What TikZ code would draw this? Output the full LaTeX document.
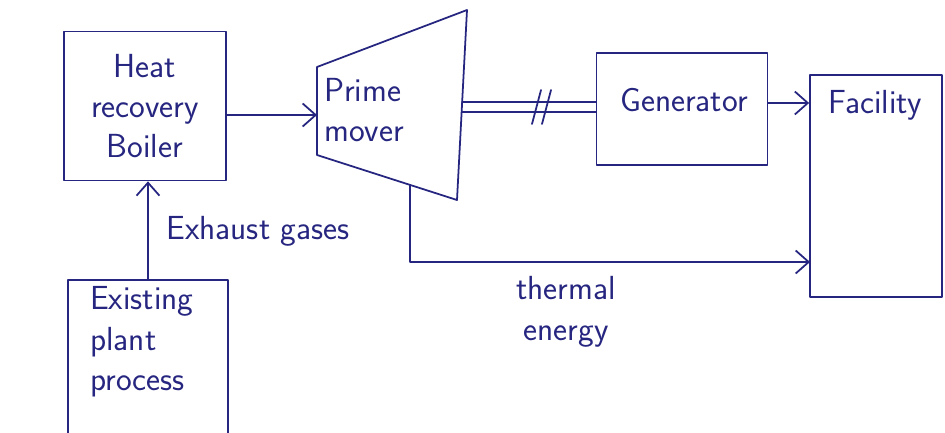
\documentclass[tikz,border=0pt]{standalone}
\usetikzlibrary{arrows.meta}
\definecolor{ink}{RGB}{38,38,128}

\begin{document}
\begin{tikzpicture}[
    x=0.02cm,y=-0.02cm,
    line cap=round,
    line join=round,
    every node/.style={text=ink,font=\sffamily\fontsize{19}{23}\selectfont},
    box/.style={draw=ink,line width=1pt,inner sep=0pt},
    wire/.style={draw=ink,line width=1pt},
    flow/.style={wire,-{Straight Barb[length=2.6mm,width=4.6mm,line width=1pt]}}
]

\useasboundingbox (0,0) rectangle (945,432);

% -------------------------------------------------
% Blocks
% -------------------------------------------------
\node[box,minimum width=3.24cm,minimum height=2.98cm,align=center] (boiler) at (145,106) {Heat\\recovery\\Boiler};
\node[box,minimum width=3.42cm,minimum height=2.24cm] (gen) at (682,109) {};
\node (genTxt) at (684,100) {Generator};
\node[box,minimum width=2.64cm,minimum height=4.44cm] (fac) at (876,186) {};
\node (facTxt) at (875,105) {Facility};
\node[box,minimum width=3.2cm,minimum height=3.6cm] (plant) at (148,370) {};
\node[anchor=west,align=left] (plantTxt) at (84,342) {Existing\\plant\\process};

% -------------------------------------------------
% Prime mover (trapezoid)
% -------------------------------------------------
\coordinate (P1) at (317,67);   % left top
\coordinate (P2) at (467,10);   % right top
\coordinate (P3) at (457,200);  % right bottom
\coordinate (P4) at (317,155);  % left bottom
\draw[wire] (P1)--(P2)--(P3)--(P4)--cycle;
\node[anchor=west,align=left] (pm) at (318,110) {Prime\\mover};

% -------------------------------------------------
% Connections
% -------------------------------------------------
\coordinate (pmIn) at (317,115);
\coordinate (pmOut) at (410,185);
\coordinate (shaftA) at (462,102);
\coordinate (shaftB) at (462,112);
\coordinate (thermEnd) at (810,262);

% boiler -> prime mover
\draw[flow] (boiler.east |- pmIn) -- (pmIn);

% exhaust gases
\draw[flow] (plant.north) -- (plant.north |- boiler.south);
\node (exh) at (258,231) {Exhaust gases};

% shaft
\draw[wire] (shaftA) -- (gen.west |- shaftA);
\draw[wire] (shaftB) -- (gen.west |- shaftB);
\draw[wire] (532,124) -- (541,90);
\draw[wire] (542,124) -- (551,90);

% generator -> facility
\coordinate (genOut) at (768,103);
\draw[flow] (genOut) -- (genOut -| fac.west);

% thermal energy
\draw[flow] (pmOut) |- (thermEnd);
\node[align=center] (therm) at (566,312) {thermal\\energy};

\end{tikzpicture}
\end{document}
